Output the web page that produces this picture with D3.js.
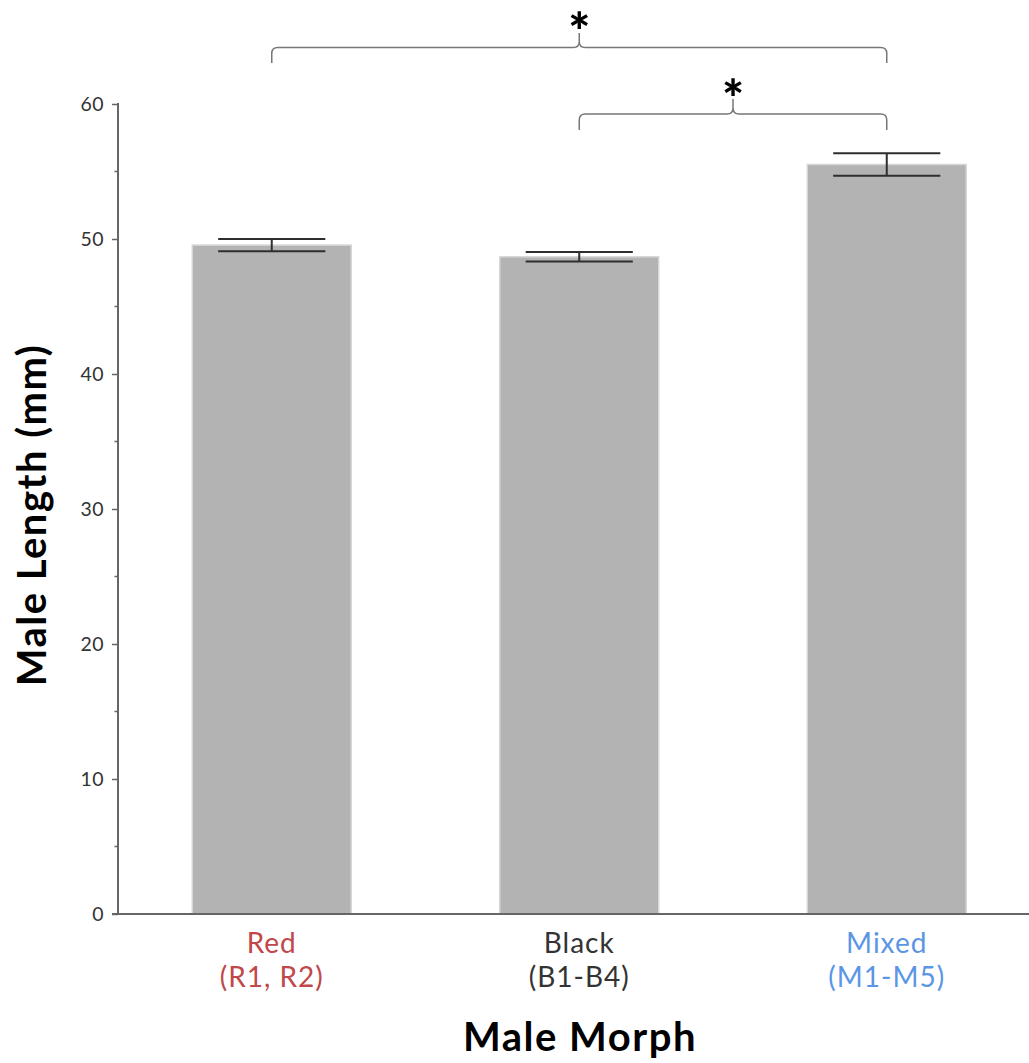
<!DOCTYPE html>
<html>
<head>
<meta charset="utf-8">
<script src="https://cdn.jsdelivr.net/npm/d3@7"></script>
<style>
  html, body { margin: 0; padding: 0; background: #fff; }
  svg { display: block; }
  text { font-family: Lato, "Open Sans", sans-serif; }
</style>
</head>
<body>
<svg id="chart" width="1029" height="1063"></svg>
<script>
// ---- data ----
const categories = ["Red", "Black", "Mixed"];
const subLabels = ["(R1, R2)", "(B1-B4)", "(M1-M5)"];
const labelColors = ["#c0474a", "#333333", "#5b96e6"];
const means = [49.55, 48.68, 55.52];
const errors = [0.45, 0.35, 0.83];
const yTicks = [0, 10, 20, 30, 40, 50, 60];
const yMinorTicks = [5, 15, 25, 35, 45, 55];
const comparisons = [
  { from: "Red", to: "Mixed", level: 0, label: "*" },
  { from: "Black", to: "Mixed", level: 1, label: "*" }
];

// ---- layout ----
const svg = d3.select("#chart");
const x0 = 118, yBase = 914, yTop = 104;

const x = d3.scaleBand()
  .domain(categories)
  .range([x0, 1040.5])
  .paddingInner(0.48)
  .paddingOuter(0.24);

const y = d3.scaleLinear().domain([0, 60]).range([yBase, yTop]);

// bars
svg.append("g").selectAll("rect")
  .data(categories)
  .join("rect")
  .attr("x", d => x(d) + 0.5)
  .attr("y", (d, i) => y(means[i]))
  .attr("width", x.bandwidth() - 1)
  .attr("height", (d, i) => y(0) - y(means[i]))
  .attr("fill", "#b3b3b3")
  .attr("stroke", "#d6d6d6")
  .attr("stroke-width", 1.5);

// error bars
const capW = x.bandwidth() * 0.67;
const eb = svg.append("g").attr("stroke", "#2e2e2e").attr("stroke-width", 2);
categories.forEach((c, i) => {
  const cx = x(c) + x.bandwidth() / 2;
  const yHi = y(means[i] + errors[i]);
  const yLo = y(means[i] - errors[i]);
  eb.append("line").attr("x1", cx).attr("x2", cx).attr("y1", yHi).attr("y2", yLo);
  eb.append("line").attr("x1", cx - capW / 2).attr("x2", cx + capW / 2).attr("y1", yHi).attr("y2", yHi);
  eb.append("line").attr("x1", cx - capW / 2).attr("x2", cx + capW / 2).attr("y1", yLo).attr("y2", yLo);
});

// y axis
const yAxis = svg.append("g").attr("transform", `translate(${x0},0)`)
  .call(d3.axisLeft(y).tickValues(yTicks).tickSize(6).tickPadding(8).tickFormat(d3.format("d")));
yAxis.select(".domain").remove();
yAxis.selectAll(".tick line").attr("stroke", "#666").attr("stroke-width", 1.5);
yAxis.selectAll(".tick text").attr("font-size", 19.5).attr("fill", "#333").attr("letter-spacing", 0.5);
svg.append("g").selectAll("line").data(yMinorTicks).join("line")
  .attr("x1", x0 - 3.5).attr("x2", x0).attr("y1", d => y(d)).attr("y2", d => y(d))
  .attr("stroke", "#666").attr("stroke-width", 1.5);
svg.append("line").attr("x1", x0).attr("x2", x0).attr("y1", yTop - 1).attr("y2", yBase)
  .attr("stroke", "#666").attr("stroke-width", 2);
// x axis line
svg.append("line").attr("x1", x0 - 6).attr("x2", 1029).attr("y1", yBase).attr("y2", yBase)
  .attr("stroke", "#666").attr("stroke-width", 2);

// x labels
const xl = svg.append("g");
categories.forEach((c, i) => {
  const cx = x(c) + x.bandwidth() / 2;
  const t = xl.append("text").attr("text-anchor", "middle").attr("font-size", 28)
    .attr("letter-spacing", 1).attr("fill", labelColors[i]);
  t.append("tspan").attr("x", cx).attr("y", 953).text(c);
  t.append("tspan").attr("x", cx).attr("y", 987).text(subLabels[i]);
});

// axis titles
svg.append("text").attr("x", 580).attr("y", 1051).attr("text-anchor", "middle")
  .attr("font-size", 40).attr("font-weight", "bold").attr("letter-spacing", 1.5)
  .attr("fill", "#000").text("Male Morph");
svg.append("text").attr("transform", "translate(46,515) rotate(-90)").attr("text-anchor", "middle")
  .attr("font-size", 40).attr("font-weight", "bold").attr("letter-spacing", 1.5)
  .attr("fill", "#000").text("Male Length (mm)");

// significance brackets
const levels = [{ yH: 47.5, yEnd: 63, yPeak: 33, yStar: 50 }, { yH: 114, yEnd: 130, yPeak: 99, yStar: 117 }];
const br = svg.append("g");
comparisons.forEach(cmp => {
  const L = levels[cmp.level];
  const xa = x(cmp.from) + x.bandwidth() / 2;
  const xb = x(cmp.to) + x.bandwidth() / 2;
  const xm = (xa + xb) / 2;
  const r = 6;
  const p = d3.path();
  p.moveTo(xa, L.yEnd);
  p.lineTo(xa, L.yH + r);
  p.quadraticCurveTo(xa, L.yH, xa + r, L.yH);
  p.lineTo(xm - r, L.yH);
  p.quadraticCurveTo(xm, L.yH, xm, L.yH - r);
  p.lineTo(xm, L.yPeak);
  p.moveTo(xm, L.yH - r);
  p.quadraticCurveTo(xm, L.yH, xm + r, L.yH);
  p.lineTo(xb - r, L.yH);
  p.quadraticCurveTo(xb, L.yH, xb, L.yH + r);
  p.lineTo(xb, L.yEnd);
  br.append("path").attr("d", p.toString()).attr("fill", "none")
    .attr("stroke", "#777").attr("stroke-width", 1.5);
  br.append("text").attr("x", xm).attr("y", L.yStar).attr("text-anchor", "middle")
    .attr("font-size", 52).attr("font-weight", "900").attr("fill", "#000").text(cmp.label);
});
</script>
</body>
</html>
